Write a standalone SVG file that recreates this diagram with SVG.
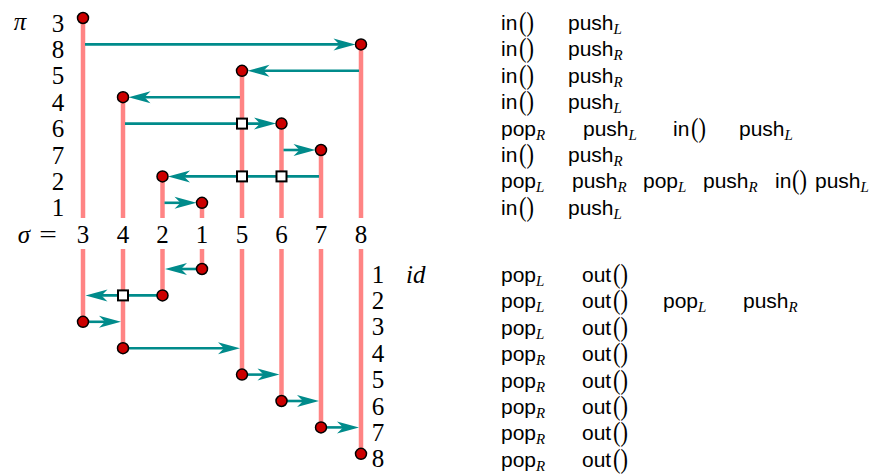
<svg xmlns="http://www.w3.org/2000/svg" width="883" height="476" viewBox="0 0 883 476">
<style>
.pk{stroke:#ff8484;stroke-width:4.5;fill:none}
.ar{stroke:#008b8b;stroke-width:2.6;fill:none;marker-end:url(#ah)}
.dot{fill:#cc0000;stroke:#000;stroke-width:1.5}
.sq{fill:#fff;stroke:#000;stroke-width:2}
.m{font-family:"Liberation Serif",serif;font-size:25px;fill:#000}
.mi{font-family:"Liberation Serif",serif;font-size:25px;font-style:italic;fill:#000}
.n{text-anchor:middle}
.s{font-family:"Liberation Sans",Arial,sans-serif;font-size:21px;fill:#000}
.sub{font-family:"Liberation Serif",serif;font-style:italic;font-size:15px}
.par{font-family:"Liberation Serif",serif;font-size:28px;fill:#000}
</style>
<defs>
<marker id="ah" viewBox="-23 -7 24 14" refX="-14" refY="0" markerWidth="24" markerHeight="14" markerUnits="userSpaceOnUse" orient="auto">
<path d="M0,0 L-22,-6 L-16,0 L-22,6 Z" fill="#008b8b"/>
</marker>
</defs>

<g id="tracks">
<line class="pk" x1="83" y1="18" x2="83" y2="218"/>
<line class="pk" x1="361" y1="44.4" x2="361" y2="218"/>
<line class="pk" x1="242" y1="70.8" x2="242" y2="218"/>
<line class="pk" x1="123" y1="97.2" x2="123" y2="218"/>
<line class="pk" x1="281.5" y1="123.6" x2="281.5" y2="218"/>
<line class="pk" x1="321" y1="150" x2="321" y2="218"/>
<line class="pk" x1="162.5" y1="176.4" x2="162.5" y2="218"/>
<line class="pk" x1="202" y1="202.8" x2="202" y2="218"/>
<line class="pk" x1="202" y1="249" x2="202" y2="269"/>
<line class="pk" x1="162.5" y1="249" x2="162.5" y2="295.4"/>
<line class="pk" x1="83" y1="249" x2="83" y2="321.8"/>
<line class="pk" x1="123" y1="249" x2="123" y2="348.2"/>
<line class="pk" x1="242" y1="249" x2="242" y2="374.6"/>
<line class="pk" x1="281.5" y1="249" x2="281.5" y2="401"/>
<line class="pk" x1="321" y1="249" x2="321" y2="427.4"/>
<line class="pk" x1="361" y1="249" x2="361" y2="453.8"/>
</g>

<g id="connectors">
<line class="ar" x1="85" y1="44.4" x2="341.5" y2="44.4"/>
<line class="ar" x1="359" y1="70.8" x2="261.5" y2="70.8"/>
<line class="ar" x1="240" y1="97.2" x2="142.5" y2="97.2"/>
<line class="ar" x1="125" y1="123.6" x2="262" y2="123.6"/>
<line class="ar" x1="283.5" y1="150" x2="301.5" y2="150"/>
<line class="ar" x1="319" y1="176.4" x2="182" y2="176.4"/>
<line class="ar" x1="164.5" y1="202.8" x2="182.5" y2="202.8"/>
<line class="ar" x1="202" y1="269" x2="179" y2="269"/>
<line class="ar" x1="162.5" y1="295.4" x2="99.5" y2="295.4"/>
<line class="ar" x1="83" y1="321.8" x2="107" y2="321.8"/>
<line class="ar" x1="123" y1="348.2" x2="226" y2="348.2"/>
<line class="ar" x1="242" y1="374.6" x2="265.5" y2="374.6"/>
<line class="ar" x1="281.5" y1="401" x2="305" y2="401"/>
<line class="ar" x1="321" y1="427.4" x2="345" y2="427.4"/>
</g>

<g id="crossings">
<rect class="sq" x="237" y="118.6" width="10" height="10"/>
<rect class="sq" x="237" y="171.4" width="10" height="10"/>
<rect class="sq" x="276.5" y="171.4" width="10" height="10"/>
<rect class="sq" x="118" y="290.4" width="10" height="10"/>
</g>

<g id="dots">
<circle class="dot" cx="83" cy="18" r="5.5"/>
<circle class="dot" cx="361" cy="44.4" r="5.5"/>
<circle class="dot" cx="242" cy="70.8" r="5.5"/>
<circle class="dot" cx="123" cy="97.2" r="5.5"/>
<circle class="dot" cx="281.5" cy="123.6" r="5.5"/>
<circle class="dot" cx="321" cy="150" r="5.5"/>
<circle class="dot" cx="162.5" cy="176.4" r="5.5"/>
<circle class="dot" cx="202" cy="202.8" r="5.5"/>
<circle class="dot" cx="202" cy="269" r="5.5"/>
<circle class="dot" cx="162.5" cy="295.4" r="5.5"/>
<circle class="dot" cx="83" cy="321.8" r="5.5"/>
<circle class="dot" cx="123" cy="348.2" r="5.5"/>
<circle class="dot" cx="242" cy="374.6" r="5.5"/>
<circle class="dot" cx="281.5" cy="401" r="5.5"/>
<circle class="dot" cx="321" cy="427.4" r="5.5"/>
<circle class="dot" cx="361" cy="453.8" r="5.5"/>
</g>

<g id="pi-labels">
<text class="mi n" x="20" y="30">π</text>
<text class="m n" x="58" y="31.5">3</text>
<text class="m n" x="58" y="57.9">8</text>
<text class="m n" x="58" y="84.3">5</text>
<text class="m n" x="58" y="110.7">4</text>
<text class="m n" x="58" y="137.1">6</text>
<text class="m n" x="58" y="163.5">7</text>
<text class="m n" x="58" y="189.9">2</text>
<text class="m n" x="58" y="216.3">1</text>
</g>

<g id="sigma-labels">
<text class="mi n" x="24" y="243">σ</text>
<text class="m n" transform="translate(48,243) scale(1.25,1)">=</text>
<text class="m n" x="83" y="243">3</text>
<text class="m n" x="123" y="243">4</text>
<text class="m n" x="162.5" y="243">2</text>
<text class="m n" x="202" y="243">1</text>
<text class="m n" x="242" y="243">5</text>
<text class="m n" x="281.5" y="243">6</text>
<text class="m n" x="321" y="243">7</text>
<text class="m n" x="361" y="243">8</text>
</g>

<g id="id-labels">
<text class="m n" x="378" y="282.5">1</text>
<text class="m n" x="378" y="308.9">2</text>
<text class="m n" x="378" y="335.3">3</text>
<text class="m n" x="378" y="361.7">4</text>
<text class="m n" x="378" y="388.1">5</text>
<text class="m n" x="378" y="414.5">6</text>
<text class="m n" x="378" y="440.9">7</text>
<text class="m n" x="378" y="467.3">8</text>
<text class="mi" x="406" y="282.5">id</text>
</g>

<g id="ops-top">
<text class="s" x="501" y="30">in</text><text class="par" transform="translate(519,31) scale(0.8,1)">()</text><text class="s" x="568" y="30">push<tspan class="sub" dy="4">L</tspan></text>
<text class="s" x="501" y="56.4">in</text><text class="par" transform="translate(519,57.4) scale(0.8,1)">()</text><text class="s" x="568" y="56.4">push<tspan class="sub" dy="4">R</tspan></text>
<text class="s" x="501" y="82.8">in</text><text class="par" transform="translate(519,83.8) scale(0.8,1)">()</text><text class="s" x="568" y="82.8">push<tspan class="sub" dy="4">R</tspan></text>
<text class="s" x="501" y="109.2">in</text><text class="par" transform="translate(519,110.2) scale(0.8,1)">()</text><text class="s" x="568" y="109.2">push<tspan class="sub" dy="4">L</tspan></text>
<text class="s" x="501" y="135.6">pop<tspan class="sub" dy="4">R</tspan></text><text class="s" x="583" y="135.6">push<tspan class="sub" dy="4">L</tspan></text><text class="s" x="673" y="135.6">in</text><text class="par" transform="translate(691,136.6) scale(0.8,1)">()</text><text class="s" x="739" y="135.6">push<tspan class="sub" dy="4">L</tspan></text>
<text class="s" x="501" y="162">in</text><text class="par" transform="translate(519,163) scale(0.8,1)">()</text><text class="s" x="568" y="162">push<tspan class="sub" dy="4">R</tspan></text>
<text class="s" x="501" y="188.4">pop<tspan class="sub" dy="4">L</tspan></text><text class="s" x="572" y="188.4">push<tspan class="sub" dy="4">R</tspan></text><text class="s" x="643" y="188.4">pop<tspan class="sub" dy="4">L</tspan></text><text class="s" x="703" y="188.4">push<tspan class="sub" dy="4">R</tspan></text><text class="s" x="775" y="188.4">in</text><text class="par" transform="translate(792,189.4) scale(0.8,1)">()</text><text class="s" x="815" y="188.4">push<tspan class="sub" dy="4">L</tspan></text>
<text class="s" x="501" y="214.8">in</text><text class="par" transform="translate(519,215.8) scale(0.8,1)">()</text><text class="s" x="568" y="214.8">push<tspan class="sub" dy="4">L</tspan></text>
</g>

<g id="ops-bottom">
<text class="s" x="501" y="282">pop<tspan class="sub" dy="4">L</tspan></text><text class="s" x="582" y="282">out</text><text class="par" transform="translate(613,283) scale(0.8,1)">()</text>
<text class="s" x="501" y="308.4">pop<tspan class="sub" dy="4">L</tspan></text><text class="s" x="582" y="308.4">out</text><text class="par" transform="translate(613,309.4) scale(0.8,1)">()</text><text class="s" x="663" y="308.4">pop<tspan class="sub" dy="4">L</tspan></text><text class="s" x="743" y="308.4">push<tspan class="sub" dy="4">R</tspan></text>
<text class="s" x="501" y="334.8">pop<tspan class="sub" dy="4">L</tspan></text><text class="s" x="582" y="334.8">out</text><text class="par" transform="translate(613,335.8) scale(0.8,1)">()</text>
<text class="s" x="501" y="361.2">pop<tspan class="sub" dy="4">R</tspan></text><text class="s" x="582" y="361.2">out</text><text class="par" transform="translate(613,362.2) scale(0.8,1)">()</text>
<text class="s" x="501" y="387.6">pop<tspan class="sub" dy="4">R</tspan></text><text class="s" x="582" y="387.6">out</text><text class="par" transform="translate(613,388.6) scale(0.8,1)">()</text>
<text class="s" x="501" y="414">pop<tspan class="sub" dy="4">R</tspan></text><text class="s" x="582" y="414">out</text><text class="par" transform="translate(613,415) scale(0.8,1)">()</text>
<text class="s" x="501" y="440.4">pop<tspan class="sub" dy="4">R</tspan></text><text class="s" x="582" y="440.4">out</text><text class="par" transform="translate(613,441.4) scale(0.8,1)">()</text>
<text class="s" x="501" y="466.8">pop<tspan class="sub" dy="4">R</tspan></text><text class="s" x="582" y="466.8">out</text><text class="par" transform="translate(613,467.8) scale(0.8,1)">()</text>
</g>
</svg>
